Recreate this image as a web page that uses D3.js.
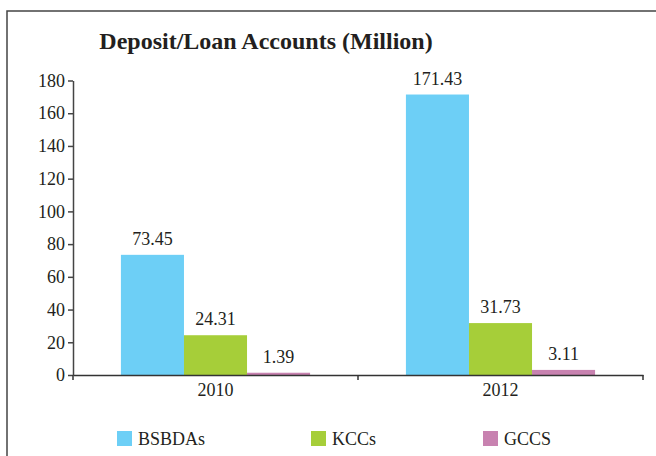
<!DOCTYPE html>
<meta charset="utf-8">
<script src="https://cdn.jsdelivr.net/npm/d3@7"></script>
<style>
body { margin: 0; background: #fff; }
text { font-family: "Liberation Serif", "DejaVu Serif", serif; fill: #231f20; }
.title { font-weight: bold; font-size: 24px; }
.tick text { font-size: 18px; }
.val { font-size: 18px; }
.leg { font-size: 18px; }
</style>
<body>
<script>
var years = ["2010", "2012"]
var series = ["BSBDAs", "KCCs", "GCCS"]
var bsbdas = [73.45, 171.43]
var kccs = [24.31, 31.73]
var gccs = [1.39, 3.11]
var yTicks = [0, 20, 40, 60, 80, 100, 120, 140, 160, 180]
var colors = ["#6dcff6", "#a6ce39", "#c882b0"]

var W = 656, H = 456
var mLeft = 73, mRight = 643, mTop = 80.5, mBottom = 375

var svg = d3.select("body").append("svg").attr("width", W).attr("height", H)

// outer frame (runs off the right and bottom edges)
svg.append("rect").attr("x", 7).attr("y", 11).attr("width", 700).attr("height", 500)
  .attr("fill", "none").attr("stroke", "#444").attr("stroke-width", 1.5)

svg.append("text").attr("class", "title").attr("x", 266).attr("y", 49)
  .attr("text-anchor", "middle").text("Deposit/Loan Accounts (Million)")

var x0 = d3.scaleBand().domain(years).range([mLeft, mRight]).paddingInner(0).paddingOuter(0)
var x1 = d3.scaleBand().domain(series).range([0, x0.bandwidth()]).paddingOuter(0.76).paddingInner(0)
var y = d3.scaleLinear().domain([0, 180]).range([mBottom, mTop])
var color = d3.scaleOrdinal().domain(series).range(colors)

var vals = { "BSBDAs": bsbdas, "KCCs": kccs, "GCCS": gccs }
var rows = []
years.forEach(function(yr, i) {
  series.forEach(function(s) { rows.push({ year: yr, key: s, v: vals[s][i] }) })
})

svg.append("g").selectAll("rect").data(rows).enter().append("rect")
  .attr("x", function(d) { return x0(d.year) + x1(d.key) })
  .attr("y", function(d) { return y(d.v) })
  .attr("width", x1.bandwidth())
  .attr("height", function(d) { return mBottom - y(d.v) })
  .attr("fill", function(d) { return color(d.key) })

svg.append("g").selectAll("text").data(rows).enter().append("text").attr("class", "val")
  .attr("x", function(d) { return x0(d.year) + x1(d.key) + x1.bandwidth() / 2 })
  .attr("y", function(d) { return y(d.v) - 10 })
  .attr("text-anchor", "middle")
  .text(function(d) { return d.v.toFixed(2) })

var yAxis = svg.append("g").attr("transform", "translate(" + mLeft + ",0)")
  .call(d3.axisLeft(y).tickValues(yTicks).tickSize(5).tickPadding(3).tickSizeOuter(0))
yAxis.select(".domain").attr("stroke", "#444").attr("stroke-width", 1.5)
yAxis.selectAll(".tick line").attr("stroke", "#444").attr("stroke-width", 1.5)

var xAxis = svg.append("g").attr("transform", "translate(0," + mBottom + ")")
  .call(d3.axisBottom(x0).tickSize(0).tickPadding(8))
xAxis.select(".domain").attr("stroke", "#333").attr("stroke-width", 1.5)
// tick marks between and at ends of the year groups
svg.append("g").selectAll("line").data([mLeft, x0("2012"), mRight]).enter().append("line")
  .attr("x1", function(d) { return d }).attr("x2", function(d) { return d })
  .attr("y1", mBottom).attr("y2", mBottom + 5).attr("stroke", "#333").attr("stroke-width", 1.5)

var legX = [117, 311, 483]
var leg = svg.append("g").selectAll("g").data(series).enter().append("g")
  .attr("transform", function(d, i) { return "translate(" + legX[i] + ",431)" })
leg.append("rect").attr("width", 15).attr("height", 15).attr("fill", function(d) { return color(d) })
leg.append("text").attr("class", "leg").attr("x", 21).attr("y", 14).text(function(d) { return d })
</script>
</body>
</html>
